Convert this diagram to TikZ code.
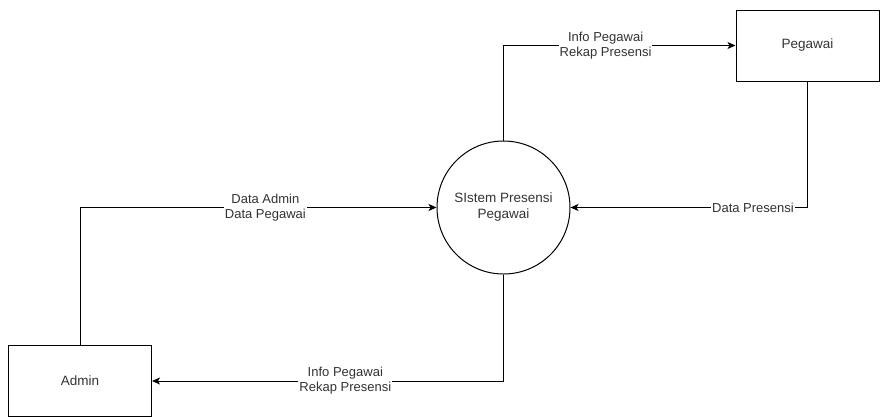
\documentclass[tikz,border=0pt]{standalone}
\usepackage{fontspec}
\setmainfont{Liberation Sans}
\usetikzlibrary{arrows.meta}
\definecolor{txt}{HTML}{333333}
\begin{document}
\begin{tikzpicture}[x=1pt,y=-1pt,
  entity/.style={draw, line width=1pt, minimum width=143pt, minimum height=71pt, inner sep=0pt, font=\fontsize{13.5}{16}\selectfont, text=txt},
  proc/.style={draw, circle, line width=1pt, minimum size=133pt, inner sep=0pt, align=center, font=\fontsize{13.5}{16}\selectfont, text=txt},
  flow/.style={line width=1pt, -{Stealth[length=8pt,width=7pt,inset=2pt]}},
  lbl/.style={fill=white, inner sep=1pt, align=center, font=\fontsize{13}{15}\selectfont, text=txt}]
\useasboundingbox (0,0) rectangle (884,416);
\node[entity] (peg) at (807.5,45.5) {Pegawai};
\node[entity] (adm) at (80,381) {Admin};
\node[proc] (sys) at (503.5,207.5) {SIstem Presensi\\Pegawai};
\coordinate (c1) at (503.5,45.5);
\coordinate (c2) at (807.5,207.5);
\coordinate (c3) at (80,207.5);
\coordinate (c4) at (503.5,381);
\draw[flow] (sys.north) -- (c1) -- node[lbl, pos=0.44]{Info Pegawai\\Rekap Presensi} (peg.west);
\draw[flow] (peg.south) -- (c2) -- node[lbl, pos=0.23]{Data Presensi} (sys.east);
\draw[flow] (adm.north) -- (c3) -- node[lbl, pos=0.52]{Data Admin\\Data Pegawai} (sys.west);
\draw[flow] (sys.south) -- (c4) -- node[lbl, pos=0.45]{Info Pegawai\\Rekap Presensi} (adm.east);
\end{tikzpicture}
\end{document}
